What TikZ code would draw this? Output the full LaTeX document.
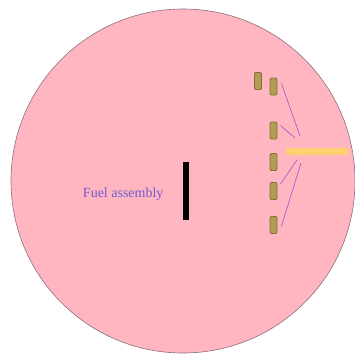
\documentclass[tikz,border=0pt]{standalone}
\usepackage{fontspec}
\setmainfont{Liberation Serif}
\begin{document}
\begin{tikzpicture}[x=1pt,y=-1pt,
  rod/.style={draw=rodedge,fill=rodfill,rounded corners=1.2pt,line width=0.9pt,minimum width=7pt,minimum height=17pt,inner sep=0pt},
  lead/.style={draw=leadcol,line width=0.6pt}]
\definecolor{vessel}{HTML}{FFB6C1}
\definecolor{vesseledge}{HTML}{8C6E80}
\definecolor{rodfill}{HTML}{AE9E56}
\definecolor{rodedge}{HTML}{8A6E36}
\definecolor{leadcol}{HTML}{A050D0}
\definecolor{textcol}{HTML}{6F5CD0}
\definecolor{barcol}{HTML}{FFD070}
\useasboundingbox (0,0) rectangle (355,356);
\fill[white] (0,0) rectangle (355,356);
\node[circle,draw=vesseledge,fill=vessel,line width=0.6pt,minimum size=344pt,inner sep=0pt] (vessel) at (183,181) {};
\node[fill=black,minimum width=6pt,minimum height=58pt,inner sep=0pt] (fuel) at (185.5,191) {};
\node[text=textcol,font=\fontsize{14}{16}\selectfont,anchor=east] (label) at (167,194) {Fuel assembly};
\node[fill=barcol,minimum width=62pt,minimum height=7pt,inner sep=0pt] (ybar) at (317,151.5) {};
\node[rod] (r0) at (258,81) {};
\node[rod] (r1) at (273.5,86.5) {};
\node[rod] (r2) at (273.5,130.5) {};
\node[rod] (r3) at (273.5,162) {};
\node[rod] (r4) at (273.5,191) {};
\node[rod] (r5) at (273.5,225) {};
\coordinate (c1) at (300,136);
\coordinate (c2) at (295,138);
\coordinate (c3) at (297,160);
\coordinate (c4) at (301,163);
\draw[lead] ([shift={(4,-3)}]r1.east) -- (c1);
\draw[lead] ([shift={(3,-5)}]r2.east) -- (c2);
\draw[lead] (c3) -- ([shift={(3,-7)}]r4.east);
\draw[lead] (c4) -- ([shift={(4,1)}]r5.east);
\end{tikzpicture}
\end{document}
